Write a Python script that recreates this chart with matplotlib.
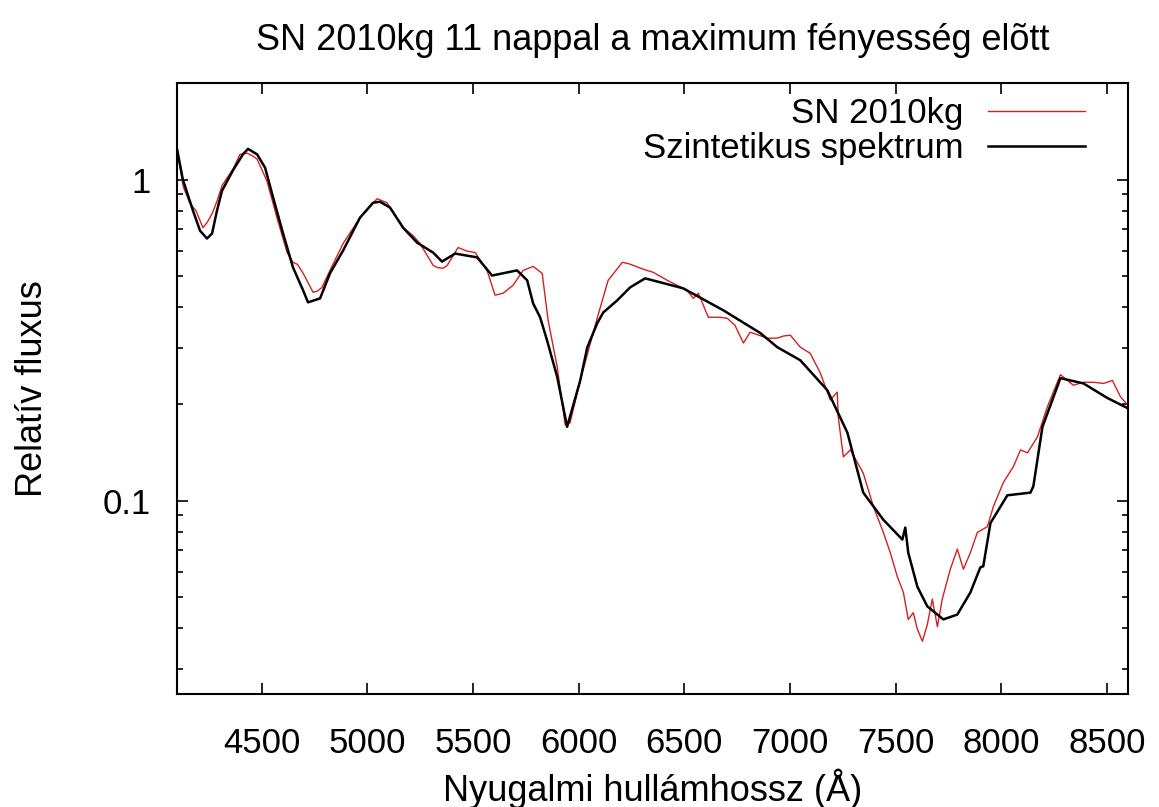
import numpy as np
import matplotlib
matplotlib.use("Agg")
import matplotlib.pyplot as plt
from matplotlib.ticker import LogLocator, NullFormatter

plt.rcParams['font.family'] = ['Liberation Sans', 'DejaVu Sans']

# synthetic spectrum (black)
wl_syn = [4100, 4128, 4176, 4209, 4242, 4266, 4289, 4313, 4365, 4412, 4436, 4479, 4517,
          4555, 4602, 4649, 4697, 4720, 4777, 4824, 4886, 4966, 5028, 5061, 5108, 5170,
          5236, 5312, 5354, 5416, 5520, 5591, 5709, 5757, 5785, 5818, 5851, 5899, 5946,
          6008, 6041, 6088, 6117, 6183, 6244, 6315, 6495, 6685, 6860, 6940, 7049, 7177,
          7272, 7347, 7442, 7532, 7546, 7560, 7603, 7650, 7726, 7792, 7854, 7901, 7915,
          7949, 8029, 8138, 8152, 8195, 8280, 8389, 8502, 8600]
fl_syn = [1.25, 1.0, 0.80, 0.694, 0.656, 0.68, 0.80, 0.924, 1.07, 1.20, 1.248, 1.20, 1.09,
          0.88, 0.68, 0.533, 0.452, 0.415, 0.427, 0.511, 0.602, 0.762, 0.848, 0.854, 0.819, 0.709,
          0.637, 0.593, 0.556, 0.589, 0.573, 0.503, 0.522, 0.486, 0.412, 0.373, 0.316, 0.243, 0.170,
          0.237, 0.300, 0.357, 0.386, 0.421, 0.462, 0.493, 0.459, 0.392, 0.333, 0.301, 0.274, 0.221,
          0.163, 0.106, 0.0873, 0.0757, 0.0825, 0.0689, 0.0540, 0.0469, 0.0427, 0.0442, 0.0518, 0.0620, 0.0625,
          0.0852, 0.104, 0.106, 0.111, 0.170, 0.241, 0.232, 0.209, 0.194]

# observed spectrum SN 2010kg (red)
wl_obs = [4100, 4130, 4162, 4190, 4223, 4245, 4266, 4290, 4313, 4340, 4365, 4398, 4431,
          4455, 4479, 4526, 4573, 4621, 4649, 4670, 4697, 4744, 4765, 4786, 4824, 4886,
          4966, 5047, 5094, 5170, 5217, 5250, 5312, 5331, 5359, 5378, 5430, 5470, 5511,
          5567, 5605, 5643, 5690, 5738, 5785, 5828, 5856, 5899, 5937, 5960, 6008, 6088,
          6140, 6207, 6235, 6259, 6300, 6353, 6420, 6514, 6543, 6567, 6614, 6670, 6704,
          6740, 6780, 6812, 6893, 6940, 6970, 7002, 7049, 7096, 7144, 7191, 7224, 7229,
          7253, 7286, 7347, 7395, 7442, 7475, 7508, 7537, 7560, 7584, 7603, 7627, 7650,
          7674, 7698, 7721, 7759, 7792, 7821, 7854, 7887, 7934, 7963, 8010, 8058, 8091,
          8124, 8171, 8218, 8280, 8310, 8341, 8389, 8436, 8484, 8526, 8564, 8600]
fl_obs = [1.25, 0.95, 0.842, 0.80, 0.709, 0.74, 0.784, 0.86, 0.958, 1.02, 1.08, 1.20, 1.21,
          1.19, 1.16, 0.99, 0.762, 0.593, 0.553, 0.545, 0.511, 0.446, 0.45, 0.462, 0.522, 0.633,
          0.762, 0.873, 0.848, 0.709, 0.670, 0.633, 0.541, 0.533, 0.530, 0.540, 0.615, 0.60, 0.593,
          0.522, 0.437, 0.443, 0.469, 0.522, 0.537, 0.511, 0.365, 0.261, 0.172, 0.175, 0.237, 0.370,
          0.486, 0.553, 0.548, 0.541, 0.528, 0.515, 0.486, 0.452, 0.427, 0.443, 0.373, 0.373, 0.370,
          0.352, 0.310, 0.335, 0.321, 0.321, 0.326, 0.328, 0.301, 0.288, 0.250, 0.206, 0.218, 0.182,
          0.137, 0.144, 0.122, 0.0960, 0.0797, 0.0689, 0.0581, 0.0518, 0.0427, 0.0448, 0.0398, 0.0365, 0.0411,
          0.0494, 0.0405, 0.0494, 0.0612, 0.0707, 0.0612, 0.0689, 0.0797, 0.0830, 0.0960, 0.114, 0.128, 0.144,
          0.141, 0.158, 0.196, 0.247, 0.238, 0.229, 0.234, 0.234, 0.232, 0.237, 0.211, 0.198]

fig = plt.figure(figsize=(11.59, 8.07), dpi=100)
ax = fig.add_axes([0.1527, 0.140, 0.8206, 0.757])

ax.plot(wl_obs, fl_obs, color='#d42020', lw=1.0, label='SN 2010kg')
ax.plot(wl_syn, fl_syn, color='black', lw=1.8, label='Szintetikus spektrum')

ax.set_yscale('log')
ax.set_xlim(4100, 8600)
ax.set_ylim(0.025, 2.0)
ax.set_xticks([4500, 5000, 5500, 6000, 6500, 7000, 7500, 8000, 8500])
ax.set_yticks([0.1, 1])
ax.set_yticklabels(['0.1', '1'])
ax.yaxis.set_minor_locator(LogLocator(base=10, subs=np.arange(2, 10)))
ax.yaxis.set_minor_formatter(NullFormatter())

ax.tick_params(which='both', direction='in', top=True, right=True, labelsize=25, width=1.2)
ax.tick_params(which='major', length=8, pad=19)
ax.tick_params(axis='x', which='major', pad=24)
ax.tick_params(which='minor', length=4.5)
for s in ax.spines.values():
    s.set_linewidth(1.5)

ax.set_title('SN 2010kg 11 nappal a maximum fényesség elõtt', fontsize=26, pad=24)
ax.set_xlabel('Nyugalmi hullámhossz (Å)', fontsize=26, labelpad=6)
ax.set_ylabel('Relatív fluxus', fontsize=26, labelpad=38)

ax.legend(loc='upper right', frameon=False, markerfirst=False, fontsize=25,
          handlelength=2.8, handletextpad=0.7, labelspacing=0.05,
          borderaxespad=0.1, bbox_to_anchor=(0.973, 1.005))

fig.savefig('out.png', dpi=100)
